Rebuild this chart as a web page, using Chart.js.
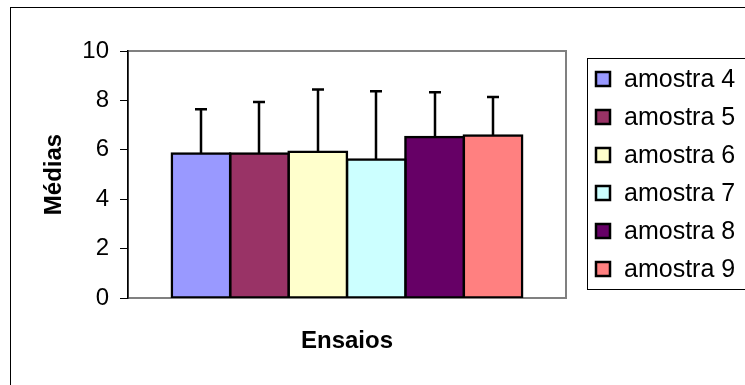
<!DOCTYPE html>
<html>
<head>
<meta charset="utf-8">
<script src="https://cdn.jsdelivr.net/npm/chart.js@4/dist/chart.umd.min.js"></script>
<style>
  html, body { margin: 0; padding: 0; background: #fff; overflow: hidden; }
  #wrap { position: relative; width: 745px; height: 385px; }
</style>
</head>
<body>
<div id="wrap"><canvas id="grafico" width="745" height="385"></canvas></div>
<script>
// dados
const categorias = [''];
const amostras = ['amostra 4', 'amostra 5', 'amostra 6', 'amostra 7', 'amostra 8', 'amostra 9'];
const medias = [5.85, 5.85, 5.92, 5.61, 6.52, 6.58];
const desvios = [1.79, 2.09, 2.52, 2.76, 1.81, 1.56];
const cores = ['#9999FF', '#993366', '#FFFFCC', '#CCFFFF', '#660066', '#FF8080'];
const yMin = 0, yMax = 10, yPasso = 2;

const fonte = '"Liberation Sans", Arial, sans-serif';

const datasets = amostras.map((nome, i) => ({
    label: nome,
    data: [medias[i]],
    erro: [desvios[i]],
    backgroundColor: cores[i],
    borderColor: '#000',
    borderWidth: 2.5,
    inflateAmount: 1.25,
    borderSkipped: false,
    categoryPercentage: 0.8,
    barPercentage: 1.0
}));

// moldura externa + borda da área do gráfico
const molduraPlugin = {
    id: 'moldura',
    beforeDraw(chart) {
        const c = chart.ctx;
        const a = chart.chartArea;
        c.save();
        c.fillStyle = '#fff';
        c.fillRect(0, 0, chart.width, chart.height);
        c.strokeStyle = '#000';
        c.lineWidth = 1;
        c.strokeRect(10.5, 7.5, 900, 900);
        c.strokeStyle = '#808080';
        c.lineWidth = 2;
        c.strokeRect(a.left, a.top, a.right - a.left, a.bottom - a.top);
        c.restore();
    }
};

// barras de erro (só para cima)
const erroPlugin = {
    id: 'barrasErro',
    afterDatasetsDraw(chart) {
        const c = chart.ctx;
        const y = chart.scales.y;
        c.save();
        c.strokeStyle = '#000';
        c.lineWidth = 2.5;
        chart.data.datasets.forEach((ds, i) => {
            const meta = chart.getDatasetMeta(i);
            meta.data.forEach((bar, j) => {
                const topo = y.getPixelForValue(ds.data[j] + ds.erro[j]);
                const x = Math.round(bar.x);
                c.beginPath();
                c.moveTo(x, bar.y);
                c.lineTo(x, topo);
                c.moveTo(x - 6, topo);
                c.lineTo(x + 6, topo);
                c.stroke();
            });
        });
        c.restore();
    }
};

// legenda com caixa, à direita
const legendaPlugin = {
    id: 'legendaCaixa',
    afterDraw(chart) {
        const c = chart.ctx;
        c.save();
        c.strokeStyle = '#000';
        c.lineWidth = 1;
        c.strokeRect(587.5, 58.5, 200, 231);
        c.font = '25px ' + fonte;
        c.textBaseline = 'middle';
        chart.data.datasets.forEach((ds, i) => {
            const cy = 79 + i * 38;
            c.fillStyle = ds.backgroundColor;
            c.fillRect(596, cy - 7, 14, 14);
            c.strokeStyle = '#000';
            c.lineWidth = 2.5;
            c.strokeRect(596, cy - 7, 14, 14);
            c.fillStyle = '#000';
            c.fillText(ds.label, 624, cy + 1);
        });
        c.restore();
    }
};

new Chart(document.getElementById('grafico').getContext('2d'), {
    type: 'bar',
    data: { labels: categorias, datasets: datasets },
    options: {
        responsive: false,
        animation: false,
        layout: { padding: { left: 0, top: 51, right: 179, bottom: 0 } },
        plugins: {
            legend: { display: false },
            tooltip: { enabled: false },
            title: { display: false }
        },
        scales: {
            x: {
                grid: { display: false, drawTicks: false },
                border: { display: true, color: '#808080', width: 2 },
                ticks: { display: false },
                title: {
                    display: true, text: 'Ensaios', color: '#000',
                    font: { family: fonte, size: 24, weight: 'bold' },
                    padding: { top: 0, bottom: 29 }
                },
                afterFit: (scale) => { scale.height = 87; }
            },
            y: {
                min: yMin, max: yMax,
                grid: { drawOnChartArea: false, drawTicks: true, tickLength: 8, color: '#000', lineWidth: 1 },
                border: { display: true, color: '#000', width: 1.5 },
                ticks: {
                    stepSize: yPasso, color: '#000', padding: 11,
                    font: { family: fonte, size: 24 }
                },
                title: {
                    display: true, text: 'Médias', color: '#000',
                    font: { family: fonte, size: 24, weight: 'bold' },
                    padding: { top: 40, bottom: 0 }
                },
                afterFit: (scale) => { scale.width = 128; }
            }
        }
    },
    plugins: [molduraPlugin, erroPlugin, legendaPlugin]
});
</script>
</body>
</html>
